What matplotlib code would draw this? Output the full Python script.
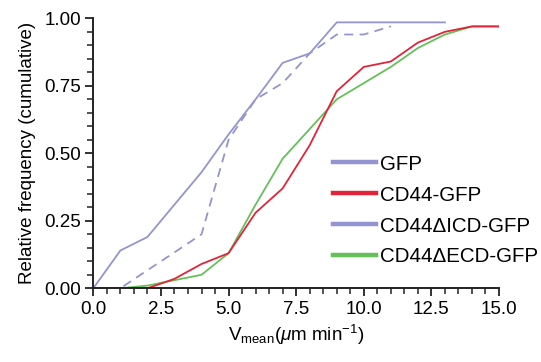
import matplotlib
matplotlib.use("Agg")
import matplotlib.pyplot as plt
from matplotlib.lines import Line2D
from matplotlib.ticker import MultipleLocator

plt.rcParams['font.family'] = ['Liberation Sans', 'DejaVu Sans']
plt.rcParams['mathtext.fontset'] = 'custom'
plt.rcParams['mathtext.rm'] = 'Liberation Sans'
plt.rcParams['mathtext.it'] = 'Liberation Sans:italic'

# Data
x_gfp = [0, 1, 2, 4, 5, 6, 7, 8, 9, 10, 11, 12, 13]
y_gfp = [0.0, 0.14, 0.19, 0.43, 0.57, 0.70, 0.835, 0.87, 0.985, 0.985, 0.985, 0.985, 0.985]

x_icd = [0, 1, 2, 3, 4, 5, 6, 7, 8, 9, 10, 11]
y_icd = [0.0, 0.0, 0.067, 0.133, 0.20, 0.55, 0.70, 0.76, 0.87, 0.94, 0.94, 0.97]

x_cd44 = [0, 1, 2, 3, 4, 5, 6, 7, 8, 9, 10, 11, 12, 13, 14, 15]
y_cd44 = [0.0, 0.0, 0.0, 0.035, 0.09, 0.13, 0.28, 0.37, 0.53, 0.73, 0.82, 0.84, 0.91, 0.95, 0.97, 0.97]

x_ecd = [0, 1, 2, 3, 4, 5, 6, 7, 8, 9, 10, 11, 12, 13, 14, 15]
y_ecd = [0.0, 0.0, 0.01, 0.03, 0.05, 0.13, 0.31, 0.48, 0.59, 0.70, 0.76, 0.82, 0.89, 0.94, 0.97, 0.97]

labels = ["GFP", "CD44-GFP", "CD44\u0394ICD-GFP", "CD44\u0394ECD-GFP"]
c_blue = "#9494d2"
c_red = "#e2243a"
c_green = "#66c05a"

fig = plt.figure(figsize=(5.41, 3.62), dpi=100)
ax = fig.add_axes([0.1725, 0.2036, 0.7499, 0.7458])

lw = 1.3
ax.plot(x_gfp, y_gfp, color=c_blue, lw=lw)
ax.plot(x_icd, y_icd, color=c_blue, lw=lw, dashes=(5, 3.5))
ax.plot(x_ecd, y_ecd, color=c_green, lw=lw)
ax.plot(x_cd44, y_cd44, color=c_red, lw=lw)

ax.set_xlim(0, 15)
ax.set_ylim(0, 1.0)
ax.xaxis.set_major_locator(MultipleLocator(2.5))
ax.xaxis.set_minor_locator(MultipleLocator(0.5))
ax.yaxis.set_major_locator(MultipleLocator(0.25))
ax.yaxis.set_minor_locator(MultipleLocator(0.05))
ax.xaxis.set_major_formatter(plt.FormatStrFormatter('%.1f'))
ax.yaxis.set_major_formatter(plt.FormatStrFormatter('%.2f'))

for s in ['top', 'right']:
    ax.spines[s].set_visible(False)
for s in ['left', 'bottom']:
    ax.spines[s].set_linewidth(1.4)
    ax.spines[s].set_color('#222222')

ax.tick_params(which='major', length=6, width=1.3, labelsize=13.5, color='#222222', pad=3)
ax.tick_params(which='minor', length=4, width=1.1, color='#222222')

ax.set_ylabel("Relative frequency (cumulative)", fontsize=13.5, labelpad=6)
ax.set_xlabel(r"V$_{\mathrm{mean}}$($\mathit{\mu}$m min$^{\mathrm{-1}}$)", fontsize=13.5, labelpad=4)

handles = [Line2D([], [], color=c_blue, lw=3.2),
           Line2D([], [], color=c_red, lw=3.2),
           Line2D([], [], color=c_blue, lw=3.2),
           Line2D([], [], color=c_green, lw=3.2)]
ax.legend(handles, labels, loc='upper left', bbox_to_anchor=(0.59, 0.495),
          frameon=False, fontsize=14.8, handlelength=2.1, handletextpad=0.22,
          labelspacing=0.58, borderpad=0, borderaxespad=0)

fig.savefig("out.png", dpi=100)
